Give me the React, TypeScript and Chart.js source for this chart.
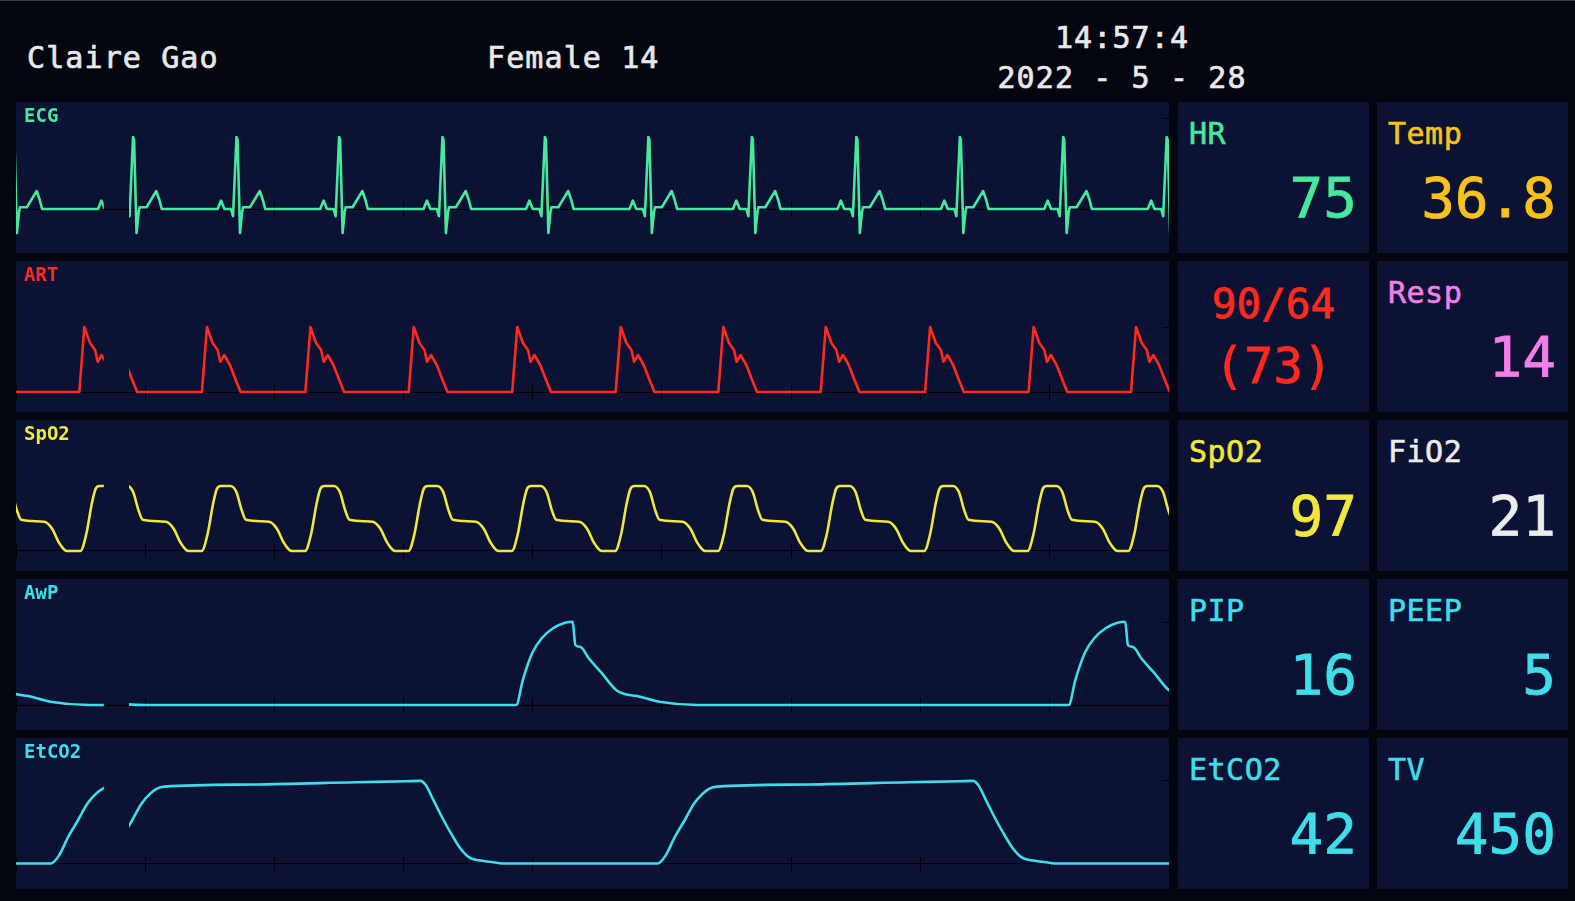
import React, { useEffect, useRef } from "react";
import { Chart, registerables } from "chart.js";

Chart.register(...registerables);

// ---------- sweep timing (seconds) ----------
const SWEEP_SECONDS = 8.925;
const GAP_START = 0.68;
const GAP_END = 0.875;
const TICK_STEP = 1;

// ---------- ECG (mV), one beat relative to the R peak ----------
const ECG_SHAPE_T = [-0.187, -0.15, -0.124, -0.098, -0.047, -0.031, -0.004, 0.004, 0.023, 0.039, 0.047, 0.1, 0.14, 0.176, 0.2, 0.218, 0.6];
const ECG_SHAPE_MV = [0, 0, 0.14, 0, 0, -0.12, 1.2, 1.15, -0.4, -0.05, 0.03, 0.03, 0.17, 0.3, 0.15, 0, 0];
const ECG_PREV_R = [-0.016, 0.785];
const ECG_R = [0.91, 1.711, 2.505, 3.305, 4.098, 4.899, 5.7, 6.509, 7.31, 8.11, 8.911];

// ---------- ART (mmHg), one pulse relative to the upstroke ----------
const ART_SHAPE_T = [0, 0.039, 0.083, 0.122, 0.142, 0.173, 0.217, 0.262, 0.3, 0.78];
const ART_SHAPE_MMHG = [64, 90, 83.6, 80.8, 76.1, 78.8, 74.8, 68.8, 64, 64];
const ART_PREV = [-0.31, 0.49];
const ART_NOW = [0.638, 1.439, 2.24, 3.04, 3.841, 4.642, 5.436, 6.229, 7.037, 7.838, 8.631];

// ---------- SpO2 pleth (a.u.), one pulse relative to the rise ----------
const SPO2_SHAPE_T = [0, 0.045, 0.089, 0.119, 0.149, 0.223, 0.268, 0.311, 0.343, 0.521, 0.58, 0.638, 0.677, 0.7, 0.78];
const SPO2_SHAPE_AU = [0, 25, 73, 96, 100, 100, 91, 62, 48, 45, 35, 12, 2, 0, 0];
const SPO2_PREV = [-0.303, 0.498];
const SPO2_NOW = [0.638, 1.437, 2.238, 3.038, 3.838, 4.638, 5.434, 6.23, 7.03, 7.83, 8.61];

// ---------- AwP (cmH2O), one breath relative to inspiration start ----------
const AWP_SHAPE_T = [0, 0.051, 0.124, 0.199, 0.288, 0.378, 0.437, 0.458, 0.498, 0.56, 0.661, 0.781, 0.96, 1.108, 1.406, 4.25];
const AWP_SHAPE_CMH2O = [5, 8.33, 11.93, 13.93, 15.27, 15.97, 16.1, 13, 12.73, 11.27, 9.27, 6.9, 6.1, 5.44, 5, 5];
const AWP_PREV = [-0.84];
const AWP_NOW = [-0.405, 3.872, 8.149];

// ---------- EtCO2 (mmHg), one breath relative to expiration start ----------
const CO2_SHAPE_T = [0, 0.062, 0.134, 0.21, 0.283, 0.35, 0.402, 0.462, 1.166, 1.944, 2.333, 2.44, 2.481, 2.544, 2.613, 2.694, 2.753, 2.813, 2.893, 2.989, 3.079, 4.25];
const CO2_SHAPE_MMHG = [0, 4, 13.5, 22, 30.5, 35.5, 38.1, 39.1, 40.2, 41.3, 41.8, 42, 40, 32, 23, 13.5, 7.5, 3.4, 1.6, 0.8, 0, 0];
const CO2_PREV = [-4.01, 0.27];
const CO2_NOW = [0.689, 4.966];

// ---------- header and numeric tiles ----------
const PATIENT_NAME = "Claire Gao";
const PATIENT_INFO = "Female 14";
const CLOCK_TIME = "14:57:4";
const CLOCK_DATE = "2022 - 5 - 28";

const TILE_LABELS = ["HR", "Temp", "", "Resp", "SpO2", "FiO2", "PIP", "PEEP", "EtCO2", "TV"];
const TILE_VALUES = ["75", "36.8", "90/64", "14", "97", "21", "16", "5", "42", "450"];
const BP_MEAN = "(73)";

// ---------- styling ----------
const FONT = '"DejaVu Sans Mono", monospace';
const PAGE_BG = "#04060f";
const PANEL_BG = "#0b1234";
const GREEN = "#45e89c";
const RED = "#ff2a1e";
const YELLOW = "#f1e83a";
const CYAN = "#3fdde8";
const GOLD = "#f7c31b";
const PINK = "#f47fe8";
const WHITE = "#ececec";
const TILE_COLORS = [GREEN, GOLD, RED, PINK, YELLOW, WHITE, CYAN, CYAN, CYAN, CYAN];

const WAVE_LEFT = 16;
const WAVE_W = 1153;
const ROW_TOP = 102;
const ROW_STEP = 159;
const ROW_H = 151;
const COL1_LEFT = 1178;
const COL2_LEFT = 1377;
const TILE_W = 191;

type Wave = {
  label: string;
  color: string;
  prev: number[];
  now: number[];
  shapeT: number[];
  shapeV: number[];
  yMin: number;
  yMax: number;
  base: number;
  mark: number;
  smooth: boolean;
};

const WAVES: Wave[] = [
  { label: "ECG", color: GREEN, prev: ECG_PREV_R, now: ECG_R, shapeT: ECG_SHAPE_T, shapeV: ECG_SHAPE_MV, yMin: -0.733, yMax: 1.783, base: 0, mark: 1.5, smooth: false },
  { label: "ART", color: RED, prev: ART_PREV, now: ART_NOW, shapeT: ART_SHAPE_T, shapeV: ART_SHAPE_MMHG, yMin: 56, yMax: 116.4, base: 64, mark: 90, smooth: false },
  { label: "SpO2", color: YELLOW, prev: SPO2_PREV, now: SPO2_NOW, shapeT: SPO2_SHAPE_T, shapeV: SPO2_SHAPE_AU, yMin: -30.8, yMax: 201.5, base: 0, mark: 100, smooth: true },
  { label: "AwP", color: CYAN, prev: AWP_PREV, now: AWP_NOW, shapeT: AWP_SHAPE_T, shapeV: AWP_SHAPE_CMH2O, yMin: 1.667, yMax: 21.8, base: 5, mark: 16, smooth: true },
  { label: "EtCO2", color: CYAN, prev: CO2_PREV, now: CO2_NOW, shapeT: CO2_SHAPE_T, shapeV: CO2_SHAPE_MMHG, yMin: -12.96, yMax: 63.8, base: 0, mark: 42, smooth: true },
];

function buildTrace(starts: number[], shapeT: number[], shapeV: number[]) {
  const pts: { x: number; y: number }[] = [];
  starts.forEach((s) => shapeT.forEach((dt, i) => pts.push({ x: s + dt, y: shapeV[i] })));
  pts.sort((a, b) => a.x - b.x);
  return pts;
}

function WaveChart({ wave }: { wave: Wave }) {
  const ref = useRef<HTMLCanvasElement>(null);
  useEffect(() => {
    const gapLeftPx = (GAP_START / SWEEP_SECONDS) * WAVE_W;
    const gapRightPx = (GAP_END / SWEEP_SECONDS) * WAVE_W;
    const lineCommon = {
      borderColor: wave.color,
      borderWidth: 2.6,
      pointRadius: 0,
      fill: false,
      tension: 0,
      borderJoinStyle: "round" as const,
      borderCapStyle: "round" as const,
      cubicInterpolationMode: wave.smooth ? ("monotone" as const) : ("default" as const),
    };
    const xAxis = (tick: number, showBorder: boolean) => ({
      type: "linear" as const,
      min: 0,
      max: SWEEP_SECONDS,
      position: { y: wave.base },
      afterFit: (s: any) => {
        s.height = 0;
      },
      ticks: { display: false, stepSize: TICK_STEP },
      grid: { drawOnChartArea: false, drawTicks: true, tickLength: tick, color: "rgba(0,0,0,0.85)", lineWidth: 1 },
      border: { display: showBorder, color: "rgba(0,0,0,0.9)", width: 1 },
    });
    const chart = new Chart(ref.current!, {
      type: "line",
      data: {
        datasets: [
          {
            ...lineCommon,
            data: buildTrace(wave.prev, wave.shapeT, wave.shapeV),
            clip: { left: 4, top: 4, bottom: 4, right: -(WAVE_W - gapLeftPx) },
          },
          {
            ...lineCommon,
            data: buildTrace(wave.now, wave.shapeT, wave.shapeV),
            clip: { left: -gapRightPx, top: 4, bottom: 4, right: 4 },
          },
        ],
      },
      options: {
        animation: false,
        responsive: false,
        maintainAspectRatio: false,
        events: [],
        layout: { padding: 0 },
        plugins: { legend: { display: false }, tooltip: { enabled: false }, title: { display: false } },
        scales: {
          x: xAxis(7, true),
          x2: xAxis(-7, false),
          y: {
            type: "linear",
            min: wave.yMin,
            max: wave.yMax,
            position: "right",
            afterFit: (s: any) => {
              s.width = 0;
            },
            afterBuildTicks: (s: any) => {
              s.ticks = [{ value: wave.mark }];
            },
            ticks: { display: false },
            grid: { drawOnChartArea: false, drawTicks: true, tickLength: -7, color: "rgba(0,0,0,0.85)", lineWidth: 1 },
            border: { display: false },
          },
        },
      } as any,
    });
    return () => chart.destroy();
  }, [wave]);
  return <canvas ref={ref} width={WAVE_W} height={ROW_H} style={{ display: "block", width: WAVE_W, height: ROW_H }} />;
}

function Tile({ index, left, top }: { index: number; left: number; top: number }) {
  const color = TILE_COLORS[index];
  const label = TILE_LABELS[index];
  const value = TILE_VALUES[index];
  const isBP = label === "";
  const big = { WebkitTextStroke: `0.8px ${color}` } as any;
  const small = { WebkitTextStroke: `0.6px ${color}` } as any;
  return (
    <div style={{ position: "absolute", left, top, width: TILE_W, height: ROW_H, background: PANEL_BG, color, fontFamily: FONT }}>
      {isBP ? (
        <>
          <div style={{ position: "absolute", left: 0, width: TILE_W, top: 22.6, fontSize: 41, lineHeight: 1, textAlign: "center", whiteSpace: "pre", ...big }}>{value}</div>
          <div style={{ position: "absolute", left: 0, width: TILE_W, top: 81, fontSize: 49, lineHeight: 1, textAlign: "center", whiteSpace: "pre", ...big }}>{BP_MEAN}</div>
        </>
      ) : (
        <>
          <div style={{ position: "absolute", left: 11, top: 17, fontSize: 30, lineHeight: 1, whiteSpace: "pre", letterSpacing: 0.5, ...small }}>{label}</div>
          <div style={{ position: "absolute", right: 12, top: 68, fontSize: 56, lineHeight: 1, whiteSpace: "pre", ...big }}>{value}</div>
        </>
      )}
    </div>
  );
}

export default function App() {
  const headerText = {
    position: "absolute" as const,
    fontSize: 30,
    lineHeight: 1,
    color: "#e8e8e8",
    whiteSpace: "pre" as const,
    letterSpacing: 1.1,
    WebkitTextStroke: "0.7px #e8e8e8",
  } as any;
  return (
    <div style={{ position: "fixed", left: 0, top: 0, width: 1575, height: 901, background: PAGE_BG, overflow: "hidden", fontFamily: FONT, borderTop: "1px solid #3a3d46", boxSizing: "border-box" }}>
      <div style={{ ...headerText, left: 27, top: 42 }}>{PATIENT_NAME}</div>
      <div style={{ ...headerText, left: 487, top: 42 }}>{PATIENT_INFO}</div>
      <div style={{ ...headerText, left: 1022, width: 200, top: 22, textAlign: "center" }}>{CLOCK_TIME}</div>
      <div style={{ ...headerText, left: 972, width: 300, top: 62, textAlign: "center" }}>{CLOCK_DATE}</div>

      {WAVES.map((w, i) => (
        <div key={w.label} style={{ position: "absolute", left: WAVE_LEFT, top: ROW_TOP + ROW_STEP * i - 1, width: WAVE_W, height: ROW_H, background: PANEL_BG }}>
          <WaveChart wave={w} />
          <div style={{ position: "absolute", left: 8, top: 4, fontSize: 19, fontWeight: "bold", lineHeight: 1, color: w.color, fontFamily: FONT }}>{w.label}</div>
        </div>
      ))}

      {TILE_VALUES.map((_, i) => (
        <Tile key={i} index={i} left={i % 2 === 0 ? COL1_LEFT : COL2_LEFT} top={ROW_TOP + ROW_STEP * Math.floor(i / 2) - 1} />
      ))}
    </div>
  );
}
